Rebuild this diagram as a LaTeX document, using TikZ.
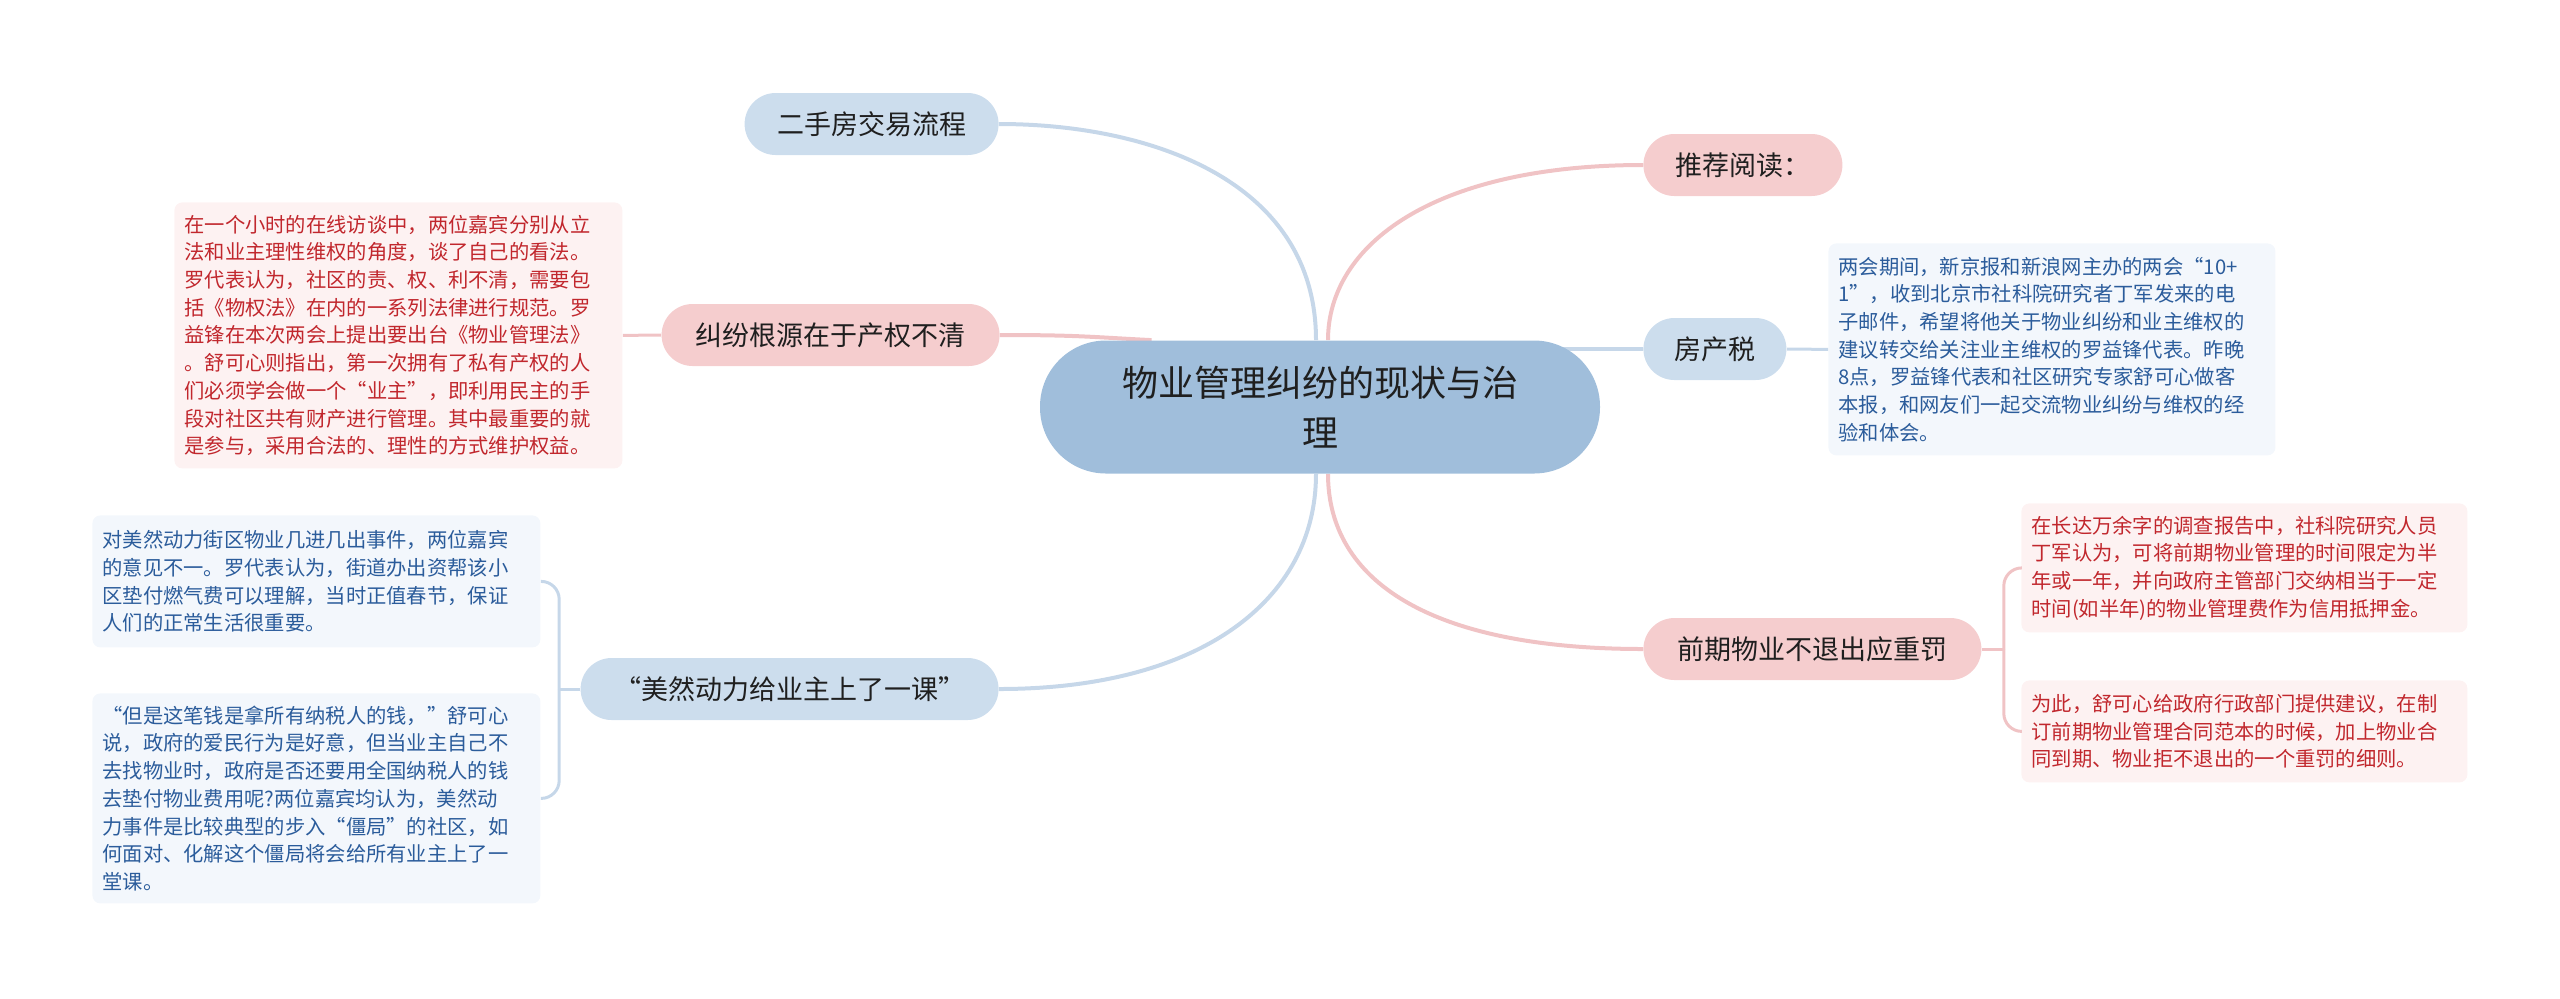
\documentclass[tikz,border=0pt]{standalone}
\usepackage{fontspec}
\setmainfont{Noto Sans CJK SC}
\usepackage{xcolor}
\usepackage{tikz}
\usetikzlibrary{calc,backgrounds}

\definecolor{rootfill}{HTML}{A0BEDB}
\definecolor{bluefill}{HTML}{CCDDED}
\definecolor{pinkfill}{HTML}{F5CDCE}
\definecolor{bluewire}{HTML}{C6D7E9}
\definecolor{pinkwire}{HTML}{F0C3C5}
\definecolor{bluenotefill}{HTML}{F3F7FC}
\definecolor{pinknotefill}{HTML}{FDF2F2}
\definecolor{bluetext}{HTML}{2B5C9B}
\definecolor{redtext}{HTML}{C1272D}

\begin{document}
\begin{tikzpicture}[x=0.5pt, y=-0.5pt,
    rootbox/.style={fill=rootfill, rounded corners=33pt, minimum width=280pt, minimum height=66.5pt,
        align=center, text=black!88, font=\fontsize{18}{25}\selectfont},
    topic/.style={rounded corners=15.5pt, minimum height=31pt, inner xsep=0pt,
        text=black!88, font=\fontsize{13.5}{16}\selectfont},
    bluetopic/.style={topic, fill=bluefill},
    pinktopic/.style={topic, fill=pinkfill},
    note/.style={rounded corners=4pt, inner xsep=5pt, align=left, anchor=north west,
        font=\fontsize{10.15}{13.85}\selectfont},
    bluenote/.style={note, fill=bluenotefill, text=bluetext},
    rednote/.style={note, fill=pinknotefill, text=redtext},
    bwire/.style={draw=bluewire, line width=2pt},
    pwire/.style={draw=pinkwire, line width=2pt},
    bbrace/.style={draw=bluewire, line width=1.5pt, rounded corners=9pt},
    pbrace/.style={draw=pinkwire, line width=1.5pt, rounded corners=9pt}]
  \useasboundingbox (0,0) rectangle (2560,998);

  % centre
  \node[rootbox] (root) at (1320,407) {物业管理纠纷的现状与治\\理};

  % left side
  \node[bluetopic, minimum width=127pt, anchor=east] (ershou) at (999,124) {二手房交易流程};
  \node[pinktopic, minimum width=169pt, anchor=east] (jiufen) at (1000,335) {纠纷根源在于产权不清};
  \node[bluetopic, minimum width=209pt, anchor=east] (meiran) at (999,689) {“美然动力给业主上了一课”};

  % right side
  \node[pinktopic, minimum width=99.5pt, anchor=west] (tuijian) at (1643,165) {推荐阅读：};
  \node[bluetopic, minimum width=71.5pt, anchor=west] (fcs) at (1643,349) {房产税};
  \node[pinktopic, minimum width=169pt, anchor=west] (qianqi) at (1643,649) {前期物业不退出应重罚};

  % notes
  \node[rednote, minimum width=224pt, minimum height=133pt, text width=214pt] (njiufen) at (174,202)
    {在一个小时的在线访谈中，两位嘉宾分别从立\\法和业主理性维权的角度，谈了自己的看法。\\罗代表认为，社区的责、权、利不清，需要包\\括《物权法》在内的一系列法律进行规范。罗\\益锋在本次两会上提出要出台《物业管理法》\\。舒可心则指出，第一次拥有了私有产权的人\\们必须学会做一个“业主”，即利用民主的手\\段对社区共有财产进行管理。其中最重要的就\\是参与，采用合法的、理性的方式维护权益。};
  \node[bluenote, minimum width=224pt, minimum height=66pt, text width=214pt] (nm1) at (92,515)
    {对美然动力街区物业几进几出事件，两位嘉宾\\的意见不一。罗代表认为，街道办出资帮该小\\区垫付燃气费可以理解，当时正值春节，保证\\人们的正常生活很重要。};
  \node[bluenote, minimum width=224pt, minimum height=105pt, text width=214pt] (nm2) at (92,693)
    {“但是这笔钱是拿所有纳税人的钱，”舒可心\\说，政府的爱民行为是好意，但当业主自己不\\去找物业时，政府是否还要用全国纳税人的钱\\去垫付物业费用呢?两位嘉宾均认为，美然动\\力事件是比较典型的步入“僵局”的社区，如\\何面对、化解这个僵局将会给所有业主上了一\\堂课。};
  \node[bluenote, minimum width=223.5pt, minimum height=106pt, text width=213.5pt] (nfcs) at (1828,243)
    {两会期间，新京报和新浪网主办的两会“10+\\1”，收到北京市社科院研究者丁军发来的电\\子邮件，希望将他关于物业纠纷和业主维权的\\建议转交给关注业主维权的罗益锋代表。昨晚\\8点，罗益锋代表和社区研究专家舒可心做客\\本报，和网友们一起交流物业纠纷与维权的经\\验和体会。};
  \node[rednote, minimum width=223pt, minimum height=64.5pt, text width=213pt] (nq1) at (2021,503)
    {在长达万余字的调查报告中，社科院研究人员\\丁军认为，可将前期物业管理的时间限定为半\\年或一年，并向政府主管部门交纳相当于一定\\时间(如半年)的物业管理费作为信用抵押金。};
  \node[rednote, minimum width=223pt, minimum height=51pt, text width=213pt] (nq2) at (2021,680)
    {为此，舒可心给政府行政部门提供建议，在制\\订前期物业管理合同范本的时候，加上物业合\\同到期、物业拒不退出的一个重罚的细则。};

  \coordinate (rtL) at ($(root.north)+(-4,0)$);
  \coordinate (rtR) at ($(root.north)+(8,0)$);
  \coordinate (rbL) at ($(root.south)+(-4,0)$);
  \coordinate (rbR) at ($(root.south)+(8,0)$);
  \coordinate (ms) at ($(meiran.west)+(-21,0)$);
  \coordinate (qs) at ($(qianqi.east)+(22,0)$);

  \begin{scope}[on background layer]
    \draw[bwire] (ershou.east) .. controls +(150,0) and +(0,-160) .. (rtL);
    \draw[pwire] (tuijian.west) .. controls +(-210,0) and +(0,-95) .. (rtR);
    \draw[bwire] (meiran.east) .. controls +(200,0) and +(0,127) .. (rbL);
    \draw[pwire] (qianqi.west) .. controls +(-213,0) and +(0,107) .. (rbR);
    \draw[pwire] (jiufen.east) .. controls +(80,0) and +(-60,-3) .. ($(root.north west)+(112,0)$);
    \draw[bwire] (fcs.west) -- (fcs.west -| root.center);
  \end{scope}

  \draw[pwire, line width=1.5pt] (jiufen.west) -- (njiufen.east);
  \draw[bwire, line width=1.5pt] (fcs.east) -- (nfcs.west);
  \draw[pwire, line width=1.5pt] (qianqi.east) -- (qs);
  \draw[pbrace] (qs) |- (nq1.west);
  \draw[pbrace] (qs) |- (nq2.west);
  \draw[bwire, line width=1.5pt] (meiran.west) -- (ms);
  \draw[bbrace] (ms) |- (nm1.east);
  \draw[bbrace] (ms) |- (nm2.east);
\end{tikzpicture}
\end{document}
